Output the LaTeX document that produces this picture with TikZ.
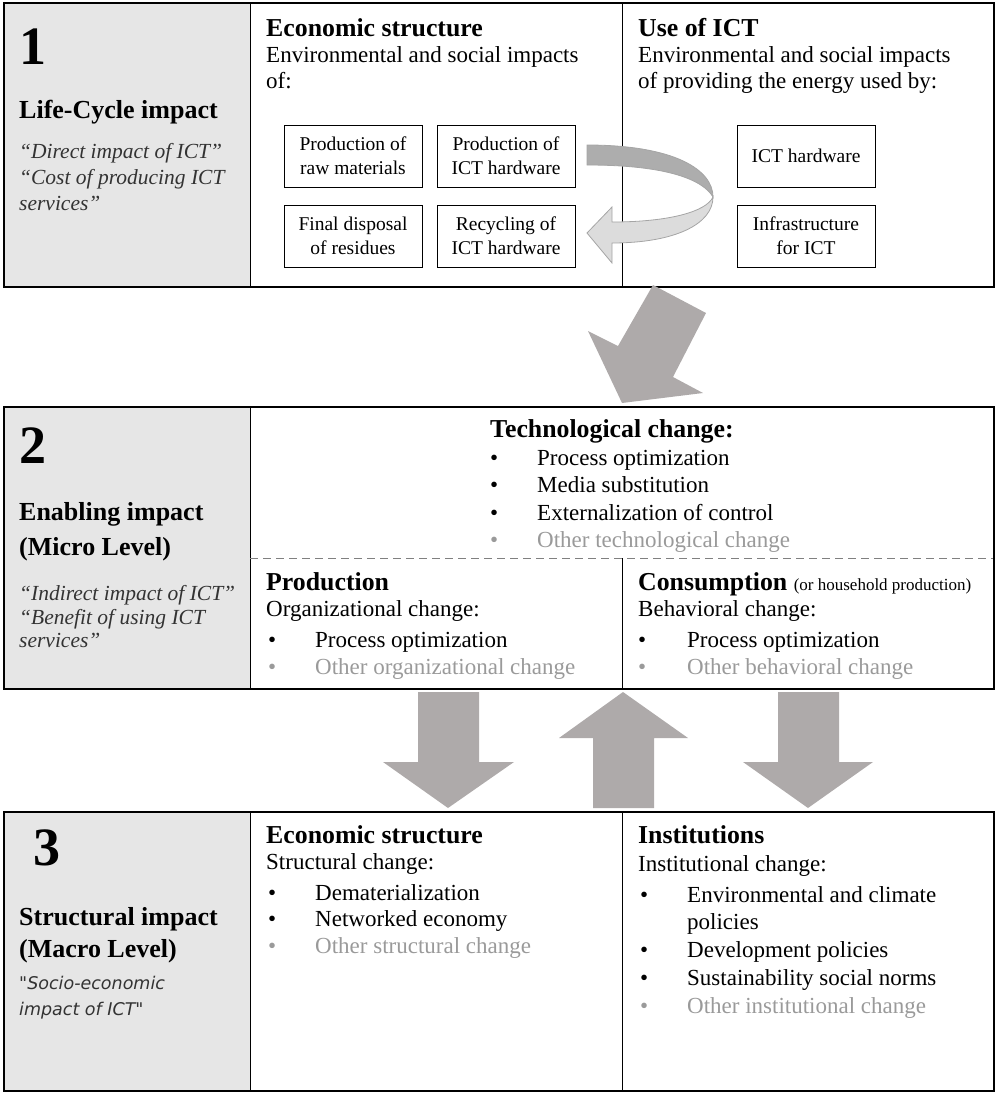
\documentclass[tikz,border=0pt]{standalone}
\usepackage{fontspec}
\setmainfont{Liberation Serif}
\newfontfamily\sansit{DejaVu Sans}
\definecolor{colgray}{HTML}{E6E6E6}
\definecolor{othergray}{HTML}{9A9A9A}
\definecolor{arrowgray}{HTML}{AEAAAA}
\definecolor{bandtop}{HTML}{ADADAD}
\definecolor{bandbot}{HTML}{DCDCDC}
\definecolor{bandline}{HTML}{A5A5A5}
\tikzset{
  panel/.style={draw=black, line width=1.4pt},
  divider/.style={draw=black, line width=0.9pt},
  body/.style={anchor=base west, inner sep=0pt, font=\fontsize{23}{26}\selectfont},
  head/.style={anchor=base west, inner sep=0pt, font=\fontsize{25.8}{29}\selectfont\bfseries},
  lhead/.style={anchor=base west, inner sep=0pt, font=\fontsize{26}{29}\selectfont\bfseries},
  bignum/.style={anchor=base west, inner sep=0pt, font=\fontsize{54}{60}\selectfont\bfseries},
  quote/.style={anchor=base west, inner sep=0pt, font=\fontsize{21.5}{24}\selectfont\itshape, text=black!80},
  squote/.style={anchor=base west, inner sep=0pt, font=\fontsize{17.5}{20}\sansit\itshape, text=black!80},
  other/.style={body, text=othergray},
  bul/.style={anchor=base west, inner sep=0pt, font=\fontsize{23}{26}\selectfont},
  obul/.style={bul, text=othergray},
  ibox/.style={draw=black, line width=1pt, minimum width=138pt, minimum height=62pt, inner sep=0pt, align=center, font=\fontsize{19.5}{24}\selectfont},
  barrow/.style={fill=arrowgray}
}
\begin{document}
\begin{tikzpicture}[x=1pt,y=-1pt]
\useasboundingbox (0,0) rectangle (996,1093);
% ---------- Panel 1 ----------
\fill[colgray] (4,3) rectangle (250,287);
\draw[divider] (250,3) -- (250,287);
\draw[divider] (622,3) -- (622,287);
\draw[panel] (4,3) rectangle (994,287);
\node[bignum] (n1) at (19,64) {1};
\node[lhead] (l1) at (19,118) {Life-Cycle impact};
\node[quote] (q1a) at (19,158) {“Direct impact of ICT”};
\node[quote] (q1b) at (19,184) {“Cost of producing ICT};
\node[quote] (q1c) at (19,210) {services”};
\node[head] (h1a) at (266,36) {Economic structure};
\node[body] (b1a) at (266,62) {Environmental and social impacts};
\node[body] (b1b) at (266,88) {of:};
\node[head] (h1b) at (638,36) {Use of ICT};
\node[body] (b1c) at (638,62) {Environmental and social impacts};
\node[body] (b1d) at (638,88) {of providing the energy used by:};
\node[ibox] (raw) at (353,156) {Production of\\raw materials};
\node[ibox] (prod) at (506,156) {Production of\\ICT hardware};
\node[ibox] (disp) at (353,236) {Final disposal\\of residues};
\node[ibox] (recy) at (506,236) {Recycling of\\ICT hardware};
\node[ibox] (hw) at (806,156) {ICT hardware};
\node[ibox] (infra) at (806,236) {Infrastructure\\for ICT};
% curved arrow
\filldraw[fill=bandbot, draw=bandline, line width=0.8pt]
  (713,197) .. controls (713,224) and (675,243) .. (612,243)
  -- (612,263) -- (587,233) -- (612,207) -- (612,222)
  .. controls (668,222) and (706,212) .. (713,197) -- cycle;
\filldraw[fill=bandtop, draw=bandline, line width=0.8pt]
  (587,145) .. controls (675,145) and (713,170) .. (713,197)
  .. controls (703,180) and (668,165) .. (587,165) -- cycle;
% diagonal arrow
\fill[barrow] (653,285) -- (706,313) -- (673,377) -- (703,393) -- (622,403) -- (588,331) -- (618,346) -- cycle;
% ---------- Panel 2 ----------
\fill[colgray] (4,407) rectangle (250,689);
\draw[divider] (250,407) -- (250,689);
\draw[divider] (622,558) -- (622,689);
\draw[draw=gray, line width=0.9pt, dash pattern=on 8pt off 5pt] (250,558) -- (994,558);
\draw[panel] (4,407) rectangle (994,689);
\node[bignum] (n2) at (19,463) {2};
\node[lhead] (l2a) at (19,520) {Enabling impact};
\node[lhead] (l2b) at (19,555) {(Micro Level)};
\node[quote] (q2a) at (19,600) {“Indirect impact of ICT”};
\node[quote] (q2b) at (19,624) {“Benefit of using ICT};
\node[quote] (q2c) at (19,647) {services”};
\node[head] (h2t) at (490,437) {Technological change:};
\node[bul] (bt1) at (490,465) {•};
\node[body] (tt1) at (537,465) {Process optimization};
\node[bul] (bt2) at (490,492) {•};
\node[body] (tt2) at (537,492) {Media substitution};
\node[bul] (bt3) at (490,520) {•};
\node[body] (tt3) at (537,520) {Externalization of control};
\node[obul] (bt4) at (490,547) {•};
\node[other] (tt4) at (537,547) {Other technological change};
\node[head] (h2p) at (266,590) {Production};
\node[body] (b2p) at (266,616) {Organizational change:};
\node[bul] (bp1) at (268,647) {•};
\node[body] (tp1) at (315,647) {Process optimization};
\node[obul] (bp2) at (268,674) {•};
\node[other] (tp2) at (315,674) {Other organizational change};
\node[head] (h2c) at (638,590) {Consumption \fontsize{17}{20}\selectfont\mdseries (or household production)};
\node[body] (b2c) at (638,616) {Behavioral change:};
\node[bul] (bc1) at (638,647) {•};
\node[body] (tc1) at (687,647) {Process optimization};
\node[obul] (bc2) at (638,674) {•};
\node[other] (tc2) at (687,674) {Other behavioral change};
% arrows between 2 and 3
\fill[barrow] (418,692) -- (479,692) -- (479,762) -- (514,762) -- (448,808) -- (383,762) -- (418,762) -- cycle;
\fill[barrow] (623,692) -- (688,738) -- (654,738) -- (654,808) -- (593,808) -- (593,738) -- (559,738) -- cycle;
\fill[barrow] (778,692) -- (839,692) -- (839,762) -- (873,762) -- (808,808) -- (743,762) -- (778,762) -- cycle;
% ---------- Panel 3 ----------
\fill[colgray] (4,812) rectangle (250,1091);
\draw[divider] (250,812) -- (250,1091);
\draw[divider] (622,812) -- (622,1091);
\draw[panel] (4,812) rectangle (994,1091);
\node[bignum] (n3) at (33,865) {3};
\node[lhead] (l3a) at (19,925) {Structural impact};
\node[lhead] (l3b) at (19,957) {(Macro Level)};
\node[squote] (q3a) at (19,989) {"Socio-economic};
\node[squote] (q3b) at (19,1015) {impact of ICT"};
\node[head] (h3e) at (266,843) {Economic structure};
\node[body] (b3e) at (266,869) {Structural change:};
\node[bul] (be1) at (268,900) {•};
\node[body] (te1) at (315,900) {Dematerialization};
\node[bul] (be2) at (268,926) {•};
\node[body] (te2) at (315,926) {Networked economy};
\node[obul] (be3) at (268,953) {•};
\node[other] (te3) at (315,953) {Other structural change};
\node[head] (h3i) at (638,843) {Institutions};
\node[body] (b3i) at (638,871) {Institutional change:};
\node[bul] (bi1) at (640,902) {•};
\node[body] (ti1) at (687,902) {Environmental and climate};
\node[body] (ti1b) at (687,929) {policies};
\node[bul] (bi2) at (640,957) {•};
\node[body] (ti2) at (687,957) {Development policies};
\node[bul] (bi3) at (640,985) {•};
\node[body] (ti3) at (687,985) {Sustainability social norms};
\node[obul] (bi4) at (640,1013) {•};
\node[other] (ti4) at (687,1013) {Other institutional change};
\end{tikzpicture}
\end{document}
